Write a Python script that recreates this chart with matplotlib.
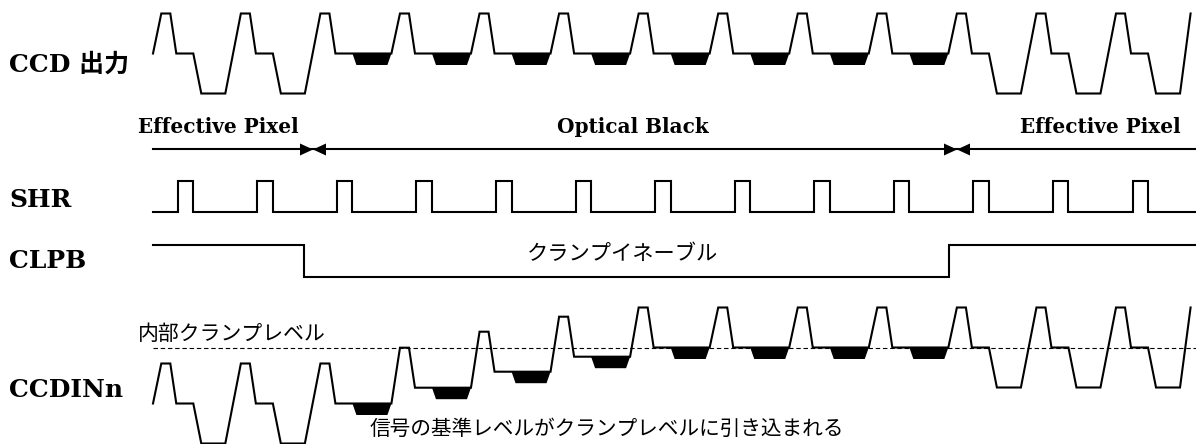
import matplotlib
matplotlib.use("Agg")
import matplotlib.pyplot as plt

# ---- timing diagram data (units = pixels of the original drawing) ----
PIXEL_PERIOD = 79.56
FIRST_TOP = 161.3
START_X, END_X = 153, 1196
pixel_kind = ["eff", "eff", "ob", "ob", "ob", "ob", "ob", "ob", "ob", "ob", "eff", "eff", "eff"]
ccd_reset = [53.5] * 13
ccdin_reset = [403.5, 403.5, 403.5, 387.7, 371.7, 356.7, 347.5,
               347.5, 347.5, 347.5, 347.5, 347.5, 347.5]
clamp_level = 347.5
shr_levels = (212, 181)           # low, high
clpb_levels = (245, 277)          # high, low
clpb_edges = [304, 949]
region_edges = [153, 313, 957, 1196]
region_labels = ["Effective Pixel", "Optical Black", "Effective Pixel"]
row_labels = ["CCD 出力", "SHR", "CLPB", "CCDINn"]
row_baselines = [72, 207, 268, 397]

SERIF = ["DejaVu Serif", "Noto Sans CJK JP"]
JP = ["Noto Sans CJK JP", "DejaVu Sans"]
LW = 1.5

fig = plt.figure(figsize=(11.96, 4.44), dpi=100)
ax = fig.add_axes([0, 0, 1, 1])
ax.set_xlim(0, 1196)
ax.set_ylim(444, 0)
ax.axis("off")


def ccd_wave(resets):
    xs, ys = [START_X], [resets[0]]
    for k, (kind, r) in enumerate(zip(pixel_kind, resets)):
        p = FIRST_TOP + k * PIXEL_PERIOD
        top = r - 40
        xs += [p, p + 9, p + 15, p + 32]
        ys += [top, top, r, r]
        if kind == "eff":
            xs += [p + 40, p + 64]
            ys += [r + 40, r + 40]
        else:
            xs += [p + 71]
            ys += [r]
            ax.fill([p + 32, p + 36, p + 67, p + 71], [r, r + 11.5, r + 11.5, r],
                    color="black", lw=0)
    # last rise is cut by the right edge
    xs.append(FIRST_TOP + len(resets) * PIXEL_PERIOD - 5)
    ys.append(resets[-1] - 40)
    ax.plot(xs, ys, color="black", lw=LW, solid_joinstyle="miter")


ccd_wave(ccd_reset)
ccd_wave(ccdin_reset)

# SHR pulses
lo, hi = shr_levels
xs, ys = [START_X], [lo]
for k in range(len(pixel_kind)):
    p = FIRST_TOP + k * PIXEL_PERIOD
    xs += [p + 16.5, p + 16.5, p + 32, p + 32]
    ys += [lo, hi, hi, lo]
xs.append(END_X); ys.append(lo)
ax.plot(xs, ys, color="black", lw=LW, solid_joinstyle="miter")

# CLPB
h, l = clpb_levels
a, b = clpb_edges
ax.plot([START_X, a, a, b, b, END_X], [h, h, l, l, h, h], color="black", lw=LW,
        solid_joinstyle="miter")
ax.text(527, 254, "クランプイネーブル", family=JP, fontsize=15.3, va="center")

# internal clamp level
ax.plot([START_X, END_X], [clamp_level, clamp_level], color="black", lw=0.8,
        linestyle=(0, (4, 2.5)))
ax.text(138, 334, "内部クランプレベル", family=JP, fontsize=15, va="center")
ax.text(370, 429, "信号の基準レベルがクランプレベルに引き込まれる", family=JP,
        fontsize=14.9, va="center")

# region arrows
ay = 149.5
ax.plot([region_edges[0], region_edges[-1]], [ay, ay], color="black", lw=LW)
for e in region_edges[1:-1]:
    ax.fill([e - 13, e, e - 13], [ay - 6, ay, ay + 6], color="black", lw=0)
    ax.fill([e + 13, e, e + 13], [ay - 6, ay, ay + 6], color="black", lw=0)
ax.text(138, 133, region_labels[0], family=SERIF, weight="bold", fontsize=14.4)
ax.text(633, 133, region_labels[1], family=SERIF, weight="bold", fontsize=14.4,
        ha="center")
ax.text(1020, 133, region_labels[2], family=SERIF, weight="bold", fontsize=14.4)

for lab, yb in zip(row_labels, row_baselines):
    ax.text(9, yb, lab, family=SERIF, weight="bold", fontsize=18)

fig.savefig("out.png", dpi=100)
